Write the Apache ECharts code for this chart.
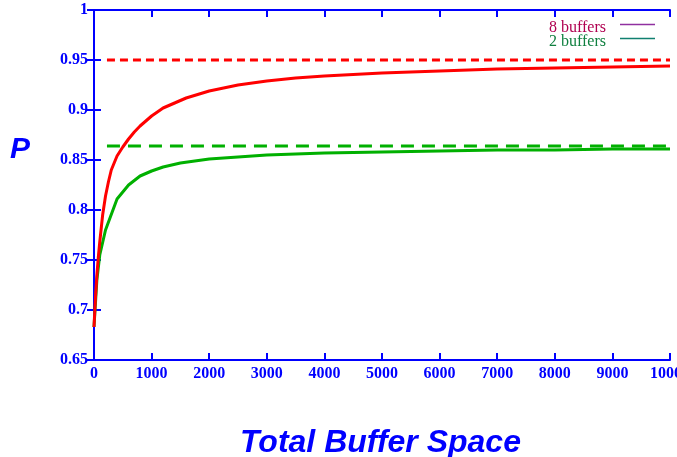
<!DOCTYPE html>
<html><head><meta charset="utf-8">
<script src="https://cdn.jsdelivr.net/npm/echarts@6/dist/echarts.min.js"></script>
<style>html,body{margin:0;padding:0;background:#fff}#c{width:677px;height:457px}</style>
</head><body><div id="c"></div>
<script>
const xTicks = [0,1000,2000,3000,4000,5000,6000,7000,8000,9000,10000];
const yTicks = [0.65,0.7,0.75,0.8,0.85,0.9,0.95,1];
const redX = [0,25,50,75,100,150,200,250,300,400,500,600,700,800,900,1000,1200,1400,1600,2000,2500,3000,3500,4000,5000,6000,7000,8000,9000,10000];
const redY = [0.683,0.712,0.735,0.753,0.768,0.795,0.814,0.828,0.840,0.854,0.863,0.871,0.878,0.884,0.889,0.894,0.902,0.907,0.912,0.919,0.925,0.929,0.932,0.934,0.937,0.939,0.941,0.942,0.943,0.944];
const greenX = [0,50,100,200,400,600,800,1000,1200,1500,2000,2500,3000,4000,5000,6000,7000,8000,9000,10000];
const greenY = [0.683,0.730,0.755,0.780,0.811,0.825,0.834,0.839,0.843,0.847,0.851,0.853,0.855,0.857,0.858,0.859,0.860,0.860,0.861,0.861];
const redLimit = 0.95;
const greenLimit = 0.864;
const limitStart = 225, limitEnd = 10000;
const legendNames = ['8 buffers','2 buffers'];

const blue = '#0000ff';
const pair = (xs, ys) => xs.map((x,i)=>[x, ys[i]]);
const chart = echarts.init(document.getElementById('c'));
const labelFont = {color: blue, fontFamily: 'Liberation Serif', fontWeight: 'bold', fontSize: 16};
const axisCommon = {
  axisLine: {show: true, lineStyle: {color: blue, width: 2}},
  axisTick: {show: true, inside: true, length: 7, lineStyle: {color: blue, width: 2}},
  splitLine: {show: false}
};
chart.setOption({
  animation: false,
  grid: {left: 94, right: 7, top: 10, bottom: 97, containLabel: false, outerBoundsMode: 'none'},
  xAxis: [
    Object.assign({type: 'value', min: 0, max: 10000, interval: 1000, position: 'bottom',
      axisLabel: Object.assign({margin: 6, formatter: v => String(v), hideOverlap: false}, labelFont)}, axisCommon),
    Object.assign({type: 'value', min: 0, max: 10000, interval: 1000, position: 'top',
      axisLabel: {show: false}}, axisCommon)
  ],
  yAxis: [
    Object.assign({type: 'value', min: 0.65, max: 1, interval: 0.05, position: 'left',
      axisLabel: Object.assign({margin: 6, formatter: v => String(+v.toFixed(2))}, labelFont)}, axisCommon),
    Object.assign({type: 'value', min: 0.65, max: 1, interval: 0.05, position: 'right',
      axisLabel: {show: false}}, axisCommon)
  ],
  series: [
    {name: 'red limit', type: 'line', data: [[limitStart, redLimit],[limitEnd, redLimit]], symbol: 'none',
      lineStyle: {color: '#ff0000', width: 3, type: [8,5]}},
    {name: 'green limit', type: 'line', data: [[limitStart, greenLimit],[limitEnd, greenLimit]], symbol: 'none',
      lineStyle: {color: '#00b000', width: 3, type: [13,8]}},
    {name: legendNames[1], type: 'line', data: pair(greenX, greenY), symbol: 'none',
      lineStyle: {color: '#00b000', width: 3, join: 'round'}},
    {name: legendNames[0], type: 'line', data: pair(redX, redY), symbol: 'none',
      lineStyle: {color: '#ff0000', width: 3, join: 'round'}}
  ],
  graphic: [
    {type: 'text', left: 10, top: 135, style: {text: 'P', fill: blue, font: 'italic bold 30px "Liberation Sans"'}},
    {type: 'text', left: 240, top: 427, style: {text: 'Total Buffer Space', fill: blue, font: 'italic bold 32px "Liberation Sans"'}},
    {type: 'text', right: 71, top: 20, style: {text: legendNames[0], fill: '#b00050', font: '16px "Liberation Serif"'}},
    {type: 'text', right: 71, top: 34, style: {text: legendNames[1], fill: '#108040', font: '16px "Liberation Serif"'}},
    {type: 'line', shape: {x1: 620, y1: 24.5, x2: 655, y2: 24.5}, style: {stroke: '#9030a0', lineWidth: 1.5}},
    {type: 'line', shape: {x1: 620, y1: 38.5, x2: 655, y2: 38.5}, style: {stroke: '#108070', lineWidth: 1.5}}
  ]
});
</script></body></html>
